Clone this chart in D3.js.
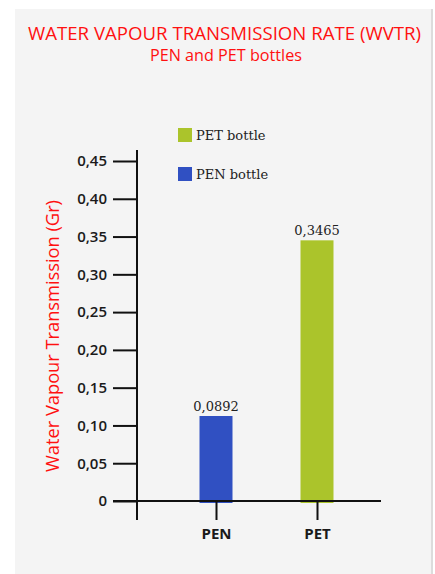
<!DOCTYPE html>
<html>
<head>
<meta charset="utf-8">
<script src="https://cdn.jsdelivr.net/npm/d3@7"></script>
<style>
  body { margin: 0; background: #fff; }
  svg { display: block; }
</style>
</head>
<body>
<div id="chart"></div>
<script>
// data
var categories = ['PEN', 'PET'];
var barValues = [0.1125, 0.345];           // bar heights as drawn
var valueLabels = ['0,0892', '0,3465'];    // labels printed above the bars
var barColors = ['#3050c2', '#abc42b'];
var yTicks = [0, 0.05, 0.10, 0.15, 0.20, 0.25, 0.30, 0.35, 0.40, 0.45];
var legendItems = ['PET bottle', 'PEN bottle'];
var legendColors = ['#abc42b', '#3050c2'];

var width = 435, height = 574;
var red = '#ff1010';

var svg = d3.select('#chart').append('svg')
    .attr('width', width)
    .attr('height', height);

// grey panel
svg.append('rect')
    .attr('x', 15).attr('y', 9)
    .attr('width', 416).attr('height', 565)
    .attr('fill', '#f4f4f4');
svg.append('rect')
    .attr('x', 431).attr('y', 9)
    .attr('width', 2).attr('height', 565)
    .attr('fill', '#dcdcdc');

// titles
svg.append('text')
    .attr('x', 224.5).attr('y', 40)
    .attr('text-anchor', 'middle')
    .attr('font-family', 'Open Sans')
    .attr('font-size', 19)
    .attr('font-weight', 500)
    .attr('fill', red)
    .attr('textLength', 393)
    .attr('lengthAdjust', 'spacingAndGlyphs')
    .text('WATER VAPOUR TRANSMISSION RATE (WVTR)');

svg.append('text')
    .attr('x', 226).attr('y', 61)
    .attr('text-anchor', 'middle')
    .attr('font-family', 'Open Sans')
    .attr('font-size', 16)
    .attr('font-weight', 500)
    .attr('fill', red)
    .attr('textLength', 152)
    .attr('lengthAdjust', 'spacingAndGlyphs')
    .text('PEN and PET bottles');

// scales
var y = d3.scaleLinear().domain([0, 0.45]).range([501, 161]);
var x = d3.scalePoint().domain(categories).range([216, 317]);
var barWidth = 33;

// y axis ticks
var yAxis = d3.axisLeft(y)
    .tickValues(yTicks)
    .tickSize(24)
    .tickPadding(6)
    .tickFormat(function(d){
        return d === 0 ? '0' : d3.format('.2f')(d).replace('.', ',');
    });

var gy = svg.append('g')
    .attr('transform', 'translate(137,0)')
    .call(yAxis);
gy.select('.domain').remove();
gy.selectAll('.tick line')
    .attr('stroke', '#111')
    .attr('stroke-width', 2);
gy.selectAll('.tick text')
    .attr('font-family', 'Open Sans')
    .attr('font-size', 15)
    .attr('font-weight', 600)
    .attr('fill', '#1a1a1a');

// axis lines
svg.append('line')
    .attr('x1', 137).attr('x2', 137)
    .attr('y1', 150).attr('y2', 520)
    .attr('stroke', '#111').attr('stroke-width', 2);

// bars
svg.selectAll('rect.bar')
    .data(barValues)
    .enter()
    .append('rect')
    .attr('class', 'bar')
    .attr('x', function(d, i){ return x(categories[i]) - barWidth/2; })
    .attr('y', function(d){ return y(d); })
    .attr('width', barWidth)
    .attr('height', function(d){ return y(0) - y(d) + 2; })
    .attr('fill', function(d, i){ return barColors[i]; });

// baseline over bars
svg.append('line')
    .attr('x1', 113).attr('x2', 381)
    .attr('y1', y(0)).attr('y2', y(0))
    .attr('stroke', '#111').attr('stroke-width', 2);

// x axis ticks
var xAxis = d3.axisBottom(x)
    .tickSize(19)
    .tickPadding(8);
var gx = svg.append('g')
    .attr('transform', 'translate(0,' + y(0) + ')')
    .call(xAxis);
gx.select('.domain').remove();
gx.selectAll('.tick line')
    .attr('stroke', '#111')
    .attr('stroke-width', 2);
gx.selectAll('.tick text')
    .attr('font-family', 'Open Sans')
    .attr('font-size', 15)
    .attr('font-weight', 700)
    .attr('fill', '#1a1a1a');

// value labels
svg.selectAll('text.value')
    .data(barValues)
    .enter()
    .append('text')
    .attr('class', 'value')
    .attr('x', function(d, i){ return x(categories[i]); })
    .attr('y', function(d){ return y(d) - 5; })
    .attr('text-anchor', 'middle')
    .attr('font-family', 'DejaVu Serif')
    .attr('font-size', 13)
    .attr('fill', '#222')
    .text(function(d, i){ return valueLabels[i]; });

// y axis title
svg.append('text')
    .attr('transform', 'translate(59,336) rotate(-90)')
    .attr('text-anchor', 'middle')
    .attr('font-family', 'Open Sans')
    .attr('font-size', 19)
    .attr('font-weight', 500)
    .attr('fill', red)
    .attr('textLength', 272)
    .attr('lengthAdjust', 'spacingAndGlyphs')
    .text('Water Vapour Transmission (Gr)');

// legend
var legend = svg.selectAll('g.legend')
    .data(legendItems)
    .enter()
    .append('g')
    .attr('class', 'legend')
    .attr('transform', function(d, i){
        return 'translate(178,' + (128 + i * 39) + ')';
    });

legend.append('rect')
    .attr('width', 14)
    .attr('height', 14)
    .attr('fill', function(d, i){ return legendColors[i]; });

legend.append('text')
    .attr('x', 18)
    .attr('y', 11.5)
    .attr('font-family', 'DejaVu Serif')
    .attr('font-size', 13)
    .attr('fill', '#222')
    .text(function(d){ return d; });
</script>
</body>
</html>
